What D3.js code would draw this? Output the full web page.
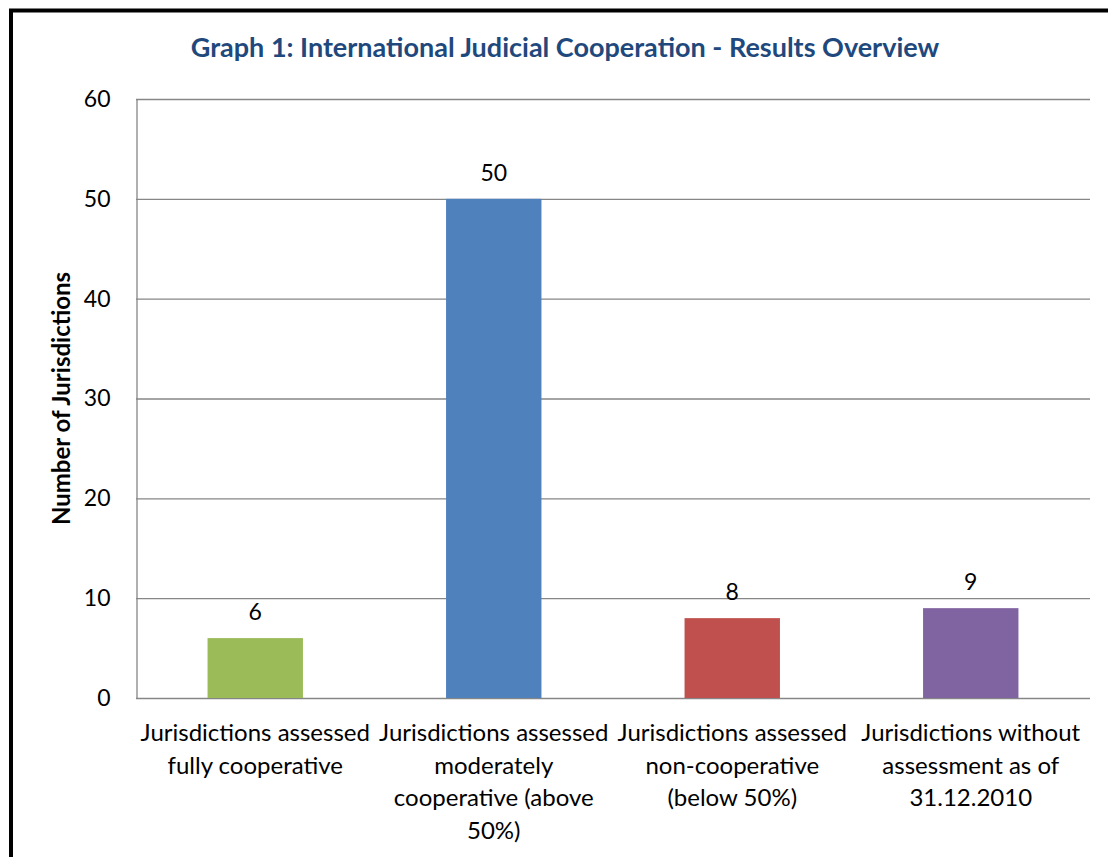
<!DOCTYPE html>
<html>
<head>
<meta charset="utf-8">
<script src="https://cdn.jsdelivr.net/npm/d3@7"></script>
<style>
  body { margin: 0; background: #fff; }
  svg { display: block; font-family: Lato, "Open Sans", sans-serif; }
</style>
</head>
<body>
<div id="chart"></div>
<script>
const categories = [
  ["Jurisdictions assessed", "fully cooperative"],
  ["Jurisdictions assessed", "moderately", "cooperative (above", "50%)"],
  ["Jurisdictions assessed", "non-cooperative", "(below 50%)"],
  ["Jurisdictions without", "assessment as of", "31.12.2010"]
];
const values = [6, 50, 8, 9];
const colors = ["#9BBB59", "#4F81BD", "#C0504D", "#8064A2"];
const yTicks = [0, 10, 20, 30, 40, 50, 60];

const width = 1108, height = 857;
const margin = { top: 99, right: 18, bottom: 159, left: 136 };

const svg = d3.select("#chart")
  .append("svg")
  .attr("width", width)
  .attr("height", height);

// frame (cropped on right and bottom in the original)
svg.append("path")
  .attr("d", `M11,${height} V10.5 H${width}`)
  .attr("fill", "none")
  .attr("stroke", "#000")
  .attr("stroke-width", 4);

const x = d3.scaleBand()
  .domain(d3.range(categories.length))
  .range([margin.left, width - margin.right])
  .paddingInner(0.6)
  .paddingOuter(0.3);

const y = d3.scaleLinear()
  .domain([0, 60])
  .range([height - margin.bottom, margin.top]);

// gridlines
svg.append("g")
  .selectAll("line")
  .data(yTicks)
  .enter()
  .append("line")
  .attr("x1", margin.left)
  .attr("x2", width - margin.right)
  .attr("y1", d => y(d) + 0.5)
  .attr("y2", d => y(d) + 0.5)
  .attr("stroke", "#868686")
  .attr("stroke-width", 1.3);

// y axis
const yAxis = svg.append("g")
  .attr("transform", `translate(${margin.left + 0.5},0)`)
  .call(d3.axisLeft(y).tickValues(yTicks).tickSize(0).tickPadding(26));
yAxis.select(".domain").attr("stroke", "#868686").attr("stroke-width", 1.3);
yAxis.selectAll("text")
  .attr("font-size", 23)
  .attr("fill", "#000")
  .attr("font-family", "Lato, 'Open Sans', sans-serif");

// bars
svg.selectAll(".bar")
  .data(values)
  .enter()
  .append("rect")
  .attr("class", "bar")
  .attr("x", (d, i) => x(i))
  .attr("y", d => y(d))
  .attr("width", x.bandwidth())
  .attr("height", d => y(0) - y(d))
  .attr("fill", (d, i) => colors[i]);

// value labels
svg.selectAll(".val")
  .data(values)
  .enter()
  .append("text")
  .attr("class", "val")
  .attr("x", (d, i) => x(i) + x.bandwidth() / 2)
  .attr("y", d => y(d) - 18)
  .attr("text-anchor", "middle")
  .attr("font-size", 23)
  .text(d => d);

// category labels
svg.selectAll(".cat")
  .data(categories)
  .enter()
  .append("text")
  .attr("class", "cat")
  .attr("text-anchor", "middle")
  .attr("font-size", 24)
  .each(function (lines, i) {
    const t = d3.select(this);
    lines.forEach((ln, j) => {
      t.append("tspan")
        .attr("x", x(i) + x.bandwidth() / 2)
        .attr("y", y(0) + 43 + j * 32.5)
        .text(ln);
    });
  });

// title
svg.append("text")
  .attr("x", 565)
  .attr("y", 57)
  .attr("text-anchor", "middle")
  .attr("font-size", 27)
  .attr("font-weight", "bold")
  .attr("fill", "#1F497D")
  .text("Graph 1: International Judicial Cooperation - Results Overview");

// y axis title
svg.append("text")
  .attr("transform", `translate(70,${(y(0) + y(60)) / 2}) rotate(-90)`)
  .attr("text-anchor", "middle")
  .attr("font-size", 24)
  .attr("font-weight", "bold")
  .text("Number of Jurisdictions");
</script>
</body>
</html>
